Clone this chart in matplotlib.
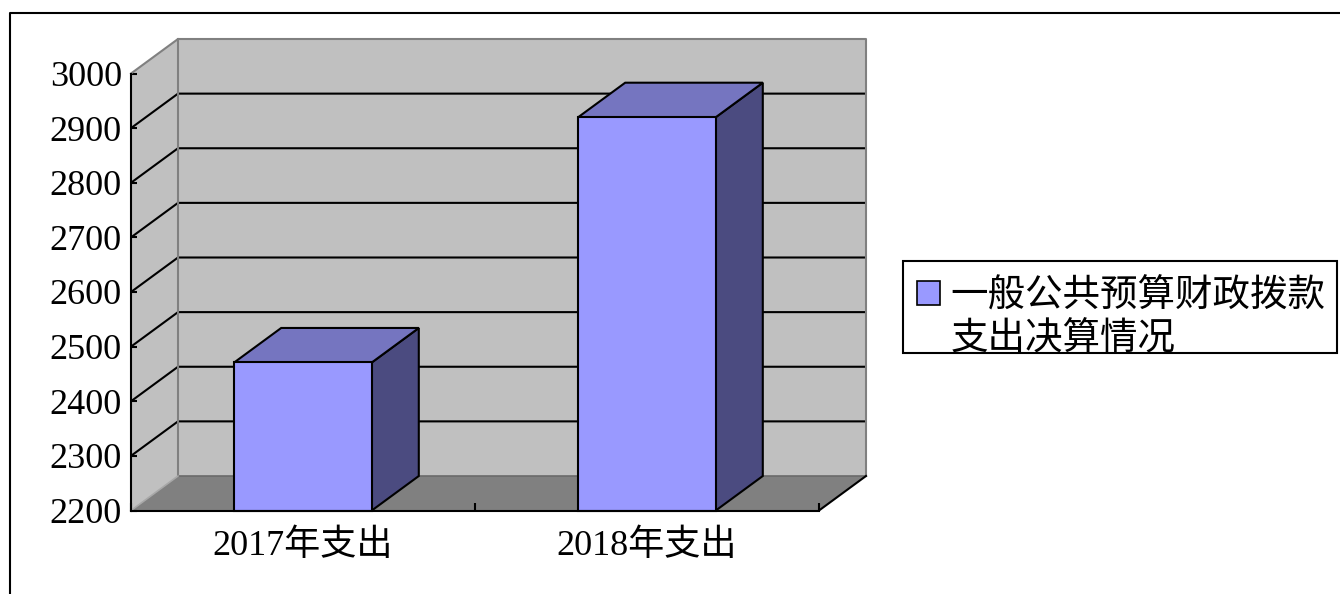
import matplotlib
matplotlib.use('Agg')
import matplotlib.pyplot as plt
from matplotlib.patches import Polygon, Rectangle, Patch
from matplotlib.lines import Line2D

# ---- data ----
categories = ['2017年支出', '2018年支出']
values = [2471, 2920]
series_lines = ['一般公共预算财政拨款', '支出决算情况']
y_ticks = [2200, 2300, 2400, 2500, 2600, 2700, 2800, 2900, 3000]
y_min, y_max = 2200, 3000

# ---- styles ----
WALL = '#C0C0C0'
FLOOR = '#808080'
EDGE = '#808080'
BAR_FRONT = '#9999FF'
BAR_TOP = '#7575C0'
BAR_SIDE = '#4B4B80'
FONT = ['Liberation Serif', 'Noto Sans CJK SC', 'DejaVu Sans']
plt.rcParams['font.family'] = FONT

W, H = 1340, 594
fig = plt.figure(figsize=(W / 100, H / 100), dpi=100)
ax = fig.add_axes([131 / W, (H - 510.5) / H, 688 / W, (510.5 - 73.5) / H])
n = len(categories)
x0, x1 = -0.5, n - 0.5
ax.set_xlim(x0, x1)
ax.set_ylim(y_min, y_max)
ax.patch.set_visible(False)

# depth offset (pixels) converted into data units
px_x = ax.bbox.width / (x1 - x0)
px_y = ax.bbox.height / (y_max - y_min)
ddx = 47 / px_x
ddy = 34.5 / px_y

# walls and floor
ax.add_patch(Polygon([(x0 + ddx, y_min + ddy), (x1 + ddx, y_min + ddy),
                      (x1 + ddx, y_max + ddy), (x0 + ddx, y_max + ddy)],
                     closed=True, fc=WALL, ec='none', clip_on=False, zorder=1))
ax.add_patch(Polygon([(x0, y_min), (x0 + ddx, y_min + ddy),
                      (x0 + ddx, y_max + ddy), (x0, y_max)],
                     closed=True, fc=WALL, ec='none', clip_on=False, zorder=1))
ax.add_patch(Polygon([(x0, y_min), (x1, y_min), (x1 + ddx, y_min + ddy),
                      (x0 + ddx, y_min + ddy)],
                     closed=True, fc=FLOOR, ec='none', clip_on=False, zorder=1))

# gridlines on side wall + back wall
for v in y_ticks[1:-1]:
    ax.plot([x0, x0 + ddx, x1 + ddx], [v, v + ddy, v + ddy], color='black',
            lw=1.5, clip_on=False, zorder=2, solid_capstyle='butt')

# wall edges
ax.plot([x0, x0 + ddx, x1 + ddx, x1 + ddx],
        [y_max, y_max + ddy, y_max + ddy, y_min + ddy],
        color=EDGE, lw=1.5, clip_on=False, zorder=2)
ax.plot([x0 + ddx, x0 + ddx], [y_min + ddy, y_max + ddy], color=EDGE, lw=1.5,
        clip_on=False, zorder=2)
ax.plot([x0 + ddx, x1 + ddx], [y_min + ddy, y_min + ddy], color='#6A6A6A', lw=1.2,
        clip_on=False, zorder=2)
ax.plot([x0, x0 + ddx], [y_min, y_min + ddy], color='#A8A8A8', lw=1.2,
        clip_on=False, zorder=2)
ax.plot([x1, x1 + ddx], [y_min, y_min + ddy], color='black', lw=1.5,
        clip_on=False, zorder=2)

# bars
bw = 0.4
for i, v in enumerate(values):
    l, r = i - bw / 2, i + bw / 2
    kw = dict(ec='black', lw=1.5, clip_on=False, zorder=4, joinstyle='miter')
    ax.add_patch(Polygon([(r, y_min), (r + ddx, y_min + ddy), (r + ddx, v + ddy), (r, v)],
                         closed=True, fc=BAR_SIDE, **kw))
    ax.add_patch(Polygon([(l, v), (r, v), (r + ddx, v + ddy), (l + ddx, v + ddy)],
                         closed=True, fc=BAR_TOP, **kw))
    ax.add_patch(Rectangle((l, y_min), bw, v - y_min, fc=BAR_FRONT, **kw))

# axes, ticks
for s in ['top', 'right']:
    ax.spines[s].set_visible(False)
for s in ['left', 'bottom']:
    ax.spines[s].set_color('black')
    ax.spines[s].set_linewidth(1.5)
    ax.spines[s].set_zorder(5)

ax.set_yticks(y_ticks)
ax.set_yticklabels([str(t) for t in y_ticks])
ax.tick_params(axis='y', direction='in', length=4, width=1.5, pad=6.5,
               labelsize=26, colors='black')

ax.set_xticks([i - 0.5 for i in range(n + 1)])
ax.set_xticklabels([''] * (n + 1))
ax.tick_params(axis='x', which='major', direction='in', length=5.5, width=1.5)
ax.set_xticks(list(range(n)), minor=True)
ax.set_xticklabels(categories, minor=True)
ax.tick_params(axis='x', which='minor', length=0, pad=13.5, labelsize=26)

# legend (frame drawn separately so the text can sit low in the box)
handles = [Patch(fc=BAR_FRONT, ec='black', lw=1.2), Patch(fc='none', ec='none')]
leg = fig.legend(handles, series_lines, loc='upper left',
                 bbox_to_anchor=(917 / W, (H - 279) / H), bbox_transform=fig.transFigure,
                 frameon=False, borderaxespad=0, prop=dict(family=FONT, size=27),
                 handlelength=0.6, handleheight=0.6, handletextpad=0.3,
                 borderpad=0, labelspacing=0.19)
fig.add_artist(Rectangle((903 / W, (H - 353) / H), (1337 - 903) / W, (353 - 261) / H,
                         transform=fig.transFigure, fill=False, ec='black', lw=1.5))

# outer frame
fig.add_artist(Line2D([10 / W, 10 / W, 1.01], [-0.01, (H - 13) / H, (H - 13) / H],
                      transform=fig.transFigure, color='black', lw=1.5))

fig.savefig('out.png', dpi=100)
